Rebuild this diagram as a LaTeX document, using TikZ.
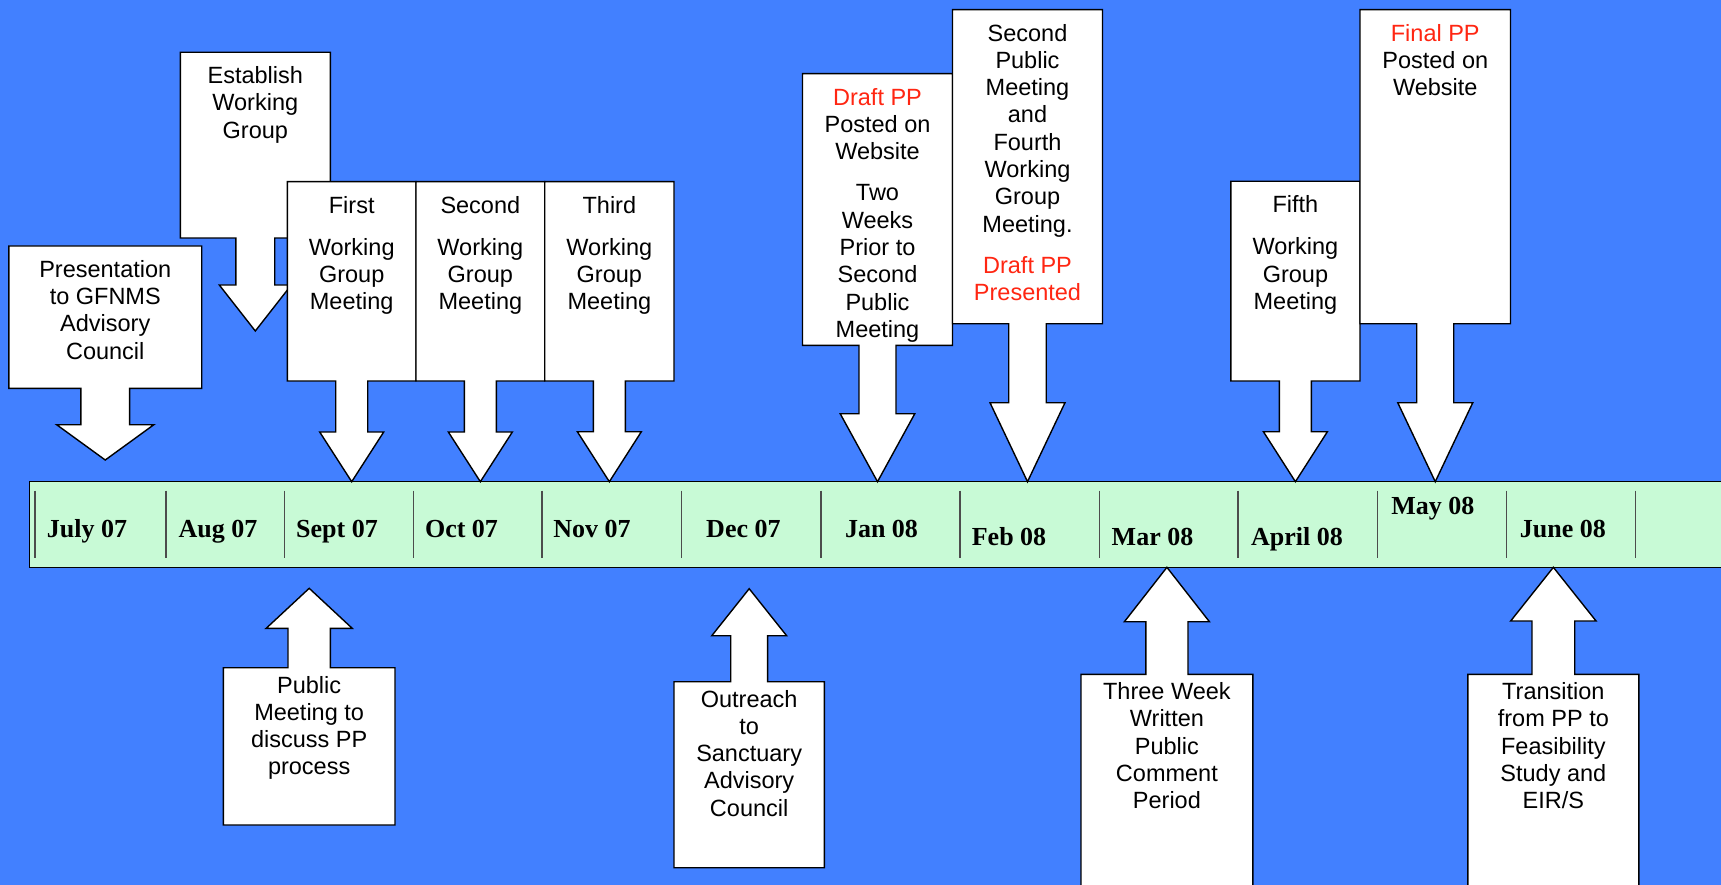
\documentclass[tikz,border=0pt]{standalone}
\usepackage{fontspec}
\newfontfamily\arialfont{Liberation Sans}
\newfontfamily\timesfont{Liberation Serif}
\usetikzlibrary{positioning,fit,calc}
\definecolor{bgblue}{RGB}{66,128,255}
\definecolor{bargreen}{RGB}{200,250,214}
\definecolor{pptred}{RGB}{255,38,18}
\tikzset{boxarea/.style={inner sep=0, outer sep=0}}
\tikzset{callout/.style={draw=black, fill=white, line width=1.4pt, line join=miter}}
\tikzset{calltext/.style={font=\arialfont\fontsize{23.5}{27.3}\selectfont, align=center, inner sep=0, outer sep=0}}
\tikzset{month/.style={font=\timesfont\bfseries\fontsize{26}{28}\selectfont, anchor=base, inner sep=0}}
\tikzset{timebar/.style={draw=black, fill=bargreen, line width=1.5pt, inner sep=0, outer sep=0}}
\tikzset{divider/.style={draw=black!70, line width=1.2pt}}
% box with an arrow pointing down / up to a tip
\newcommand{\calldown}[5]{%
  \draw[callout] (#1.south west) |- (#1.north east) |- ($(#1.south)+(#2,0)$)
    |- ($(#5)+(#3,-#4)$) -- (#5) -- ($(#5)+(-#3,-#4)$)
    -| ($(#1.south)+(-#2,0)$) -- cycle;}
\newcommand{\callup}[5]{%
  \draw[callout] (#1.north west) |- (#1.south east) |- ($(#1.north)+(#2,0)$)
    |- ($(#5)+(#3,#4)$) -- (#5) -- ($(#5)+(-#3,#4)$)
    -| ($(#1.north)+(-#2,0)$) -- cycle;}
\newcommand{\red}[1]{\textcolor{pptred}{#1}}

\begin{document}
\begin{tikzpicture}[x=1pt, y=-1pt]
  \useasboundingbox (0,0) rectangle (1721,885);
  \fill[bgblue] (0,0) rectangle (1721,885);
  \clip (0,0) rectangle (1721,885);
  %
  % time line
  \node[timebar, fit={(29.3,481.7) (1760,567.3)}] (bar) {};
  \foreach \dx in {35,166,284.7,413.3,541.9,681.4,821,960,1099.4,1238,1377.8,1506.7,1635.3}
    \draw[divider] (\dx,490.7) -- (\dx,557.5);
  \foreach \mon/\mx/\my/\mname in {July 07/87/537.5/jul, Aug 07/218/537.5/aug,
      Sept 07/337/537.5/sep, Oct 07/461.5/537.5/oct, Nov 07/592/537.5/nov,
      Dec 07/743.4/537.5/dec, Jan 08/881.5/537.3/jan, Feb 08/1009/545/feb,
      Mar 08/1152.5/545/mar, April 08/1297/545/apr, May 08/1432.8/514.5/may,
      June 08/1562.8/537.3/jun}
    \node[month] (\mname) at (\mx,\my) {\mon};
  %
  % callouts above the line
  \node[boxarea, fit={(8.8,246) (201.7,388.3)}] (pres) {};
  \coordinate (pres-tip) at (105.25,460);
  \calldown{pres}{24.4}{48.6}{35.3}{pres-tip}
  \node[calltext, below=14.3pt of pres.north] (pres-t)
    {Presentation\\to GFNMS\\Advisory\\Council};
  %
  \node[boxarea, fit={(180.3,52.3) (330.3,238)}] (estab) {};
  \coordinate (estab-tip) at (255.3,331);
  \calldown{estab}{19.4}{36}{46}{estab-tip}
  \node[calltext, below=14.3pt of estab.north] (estab-t)
    {Establish\\Working\\Group};
  %
  \node[boxarea, fit={(287.4,181.7) (416,381)}] (first) {};
  \coordinate (first-tip) at (first.south |- bar.north);
  \calldown{first}{16}{32}{49.7}{first-tip}
  \node[calltext, below=14.3pt of first.north] (first-t)
    {First\\[15pt]Working\\Group\\Meeting};
  %
  \node[boxarea, fit={(416,181.7) (544.7,381)}] (second) {};
  \coordinate (second-tip) at (second.south |- bar.north);
  \calldown{second}{16}{32}{49.7}{second-tip}
  \node[calltext, below=14.3pt of second.north] (second-t)
    {Second\\[15pt]Working\\Group\\Meeting};
  %
  \node[boxarea, fit={(544.7,181.7) (674,381)}] (third) {};
  \coordinate (third-tip) at (third.south |- bar.north);
  \calldown{third}{16}{32}{50}{third-tip}
  \node[calltext, below=14.3pt of third.north] (third-t)
    {Third\\[15pt]Working\\Group\\Meeting};
  %
  \node[boxarea, fit={(802.5,73.7) (952.5,345.3)}] (draft) {};
  \coordinate (draft-tip) at (draft.south |- bar.north);
  \calldown{draft}{18.5}{37.3}{68}{draft-tip}
  \node[calltext, below=14.3pt of draft.north] (draft-t)
    {\red{Draft PP}\\Posted on\\Website\\[14pt]Two\\Weeks\\Prior to\\Second\\Public\\Meeting};
  %
  \node[boxarea, fit={(952.5,9.7) (1102.5,323.7)}] (secpub) {};
  \coordinate (secpub-tip) at (secpub.south |- bar.north);
  \calldown{secpub}{18.75}{37.5}{79}{secpub-tip}
  \node[calltext, below=14.3pt of secpub.north] (secpub-t)
    {Second\\Public\\Meeting\\and\\Fourth\\Working\\Group\\Meeting.\\[14pt]\red{Draft PP}\\\red{Presented}};
  %
  \node[boxarea, fit={(1230.8,181.3) (1360,381)}] (fifth) {};
  \coordinate (fifth-tip) at (fifth.south |- bar.north);
  \calldown{fifth}{16}{32}{50}{fifth-tip}
  \node[calltext, below=14.3pt of fifth.north] (fifth-t)
    {Fifth\\[15pt]Working\\Group\\Meeting};
  %
  \node[boxarea, fit={(1360,9.7) (1510.5,323.7)}] (final) {};
  \coordinate (final-tip) at (final.south |- bar.north);
  \calldown{final}{18.5}{37.5}{79}{final-tip}
  \node[calltext, below=14.3pt of final.north] (final-t)
    {\red{Final PP}\\Posted on\\Website};
  %
  % callouts below the line
  \node[boxarea, fit={(223.3,667.7) (395,825)}] (pubmeet) {};
  \coordinate (pubmeet-tip) at (309.2,588.3);
  \callup{pubmeet}{21.2}{43}{40}{pubmeet-tip}
  \node[calltext, below=8.3pt of pubmeet.north] (pubmeet-t)
    {Public\\Meeting to\\discuss PP\\process};
  %
  \node[boxarea, fit={(674,681.7) (824.3,867.7)}] (outreach) {};
  \coordinate (outreach-tip) at (749.2,588.7);
  \callup{outreach}{18.4}{37.4}{47}{outreach-tip}
  \node[calltext, below=8.3pt of outreach.north] (outreach-t)
    {Outreach\\to\\Sanctuary\\Advisory\\Council};
  %
  \node[boxarea, fit={(1081,674.3) (1252.8,900)}] (threewk) {};
  \coordinate (threewk-tip) at (threewk.north |- bar.south);
  \callup{threewk}{21.1}{42.5}{54.4}{threewk-tip}
  \node[calltext, below=8.3pt of threewk.north] (threewk-t)
    {Three Week\\Written\\Public\\Comment\\Period};
  %
  \node[boxarea, fit={(1467.8,674.3) (1638.9,900)}] (trans) {};
  \coordinate (trans-tip) at (trans.north |- bar.south);
  \callup{trans}{21.35}{42.7}{53.7}{trans-tip}
  \node[calltext, below=8.3pt of trans.north] (trans-t)
    {Transition\\from PP to\\Feasibility\\Study and\\EIR/S};
\end{tikzpicture}
\end{document}
